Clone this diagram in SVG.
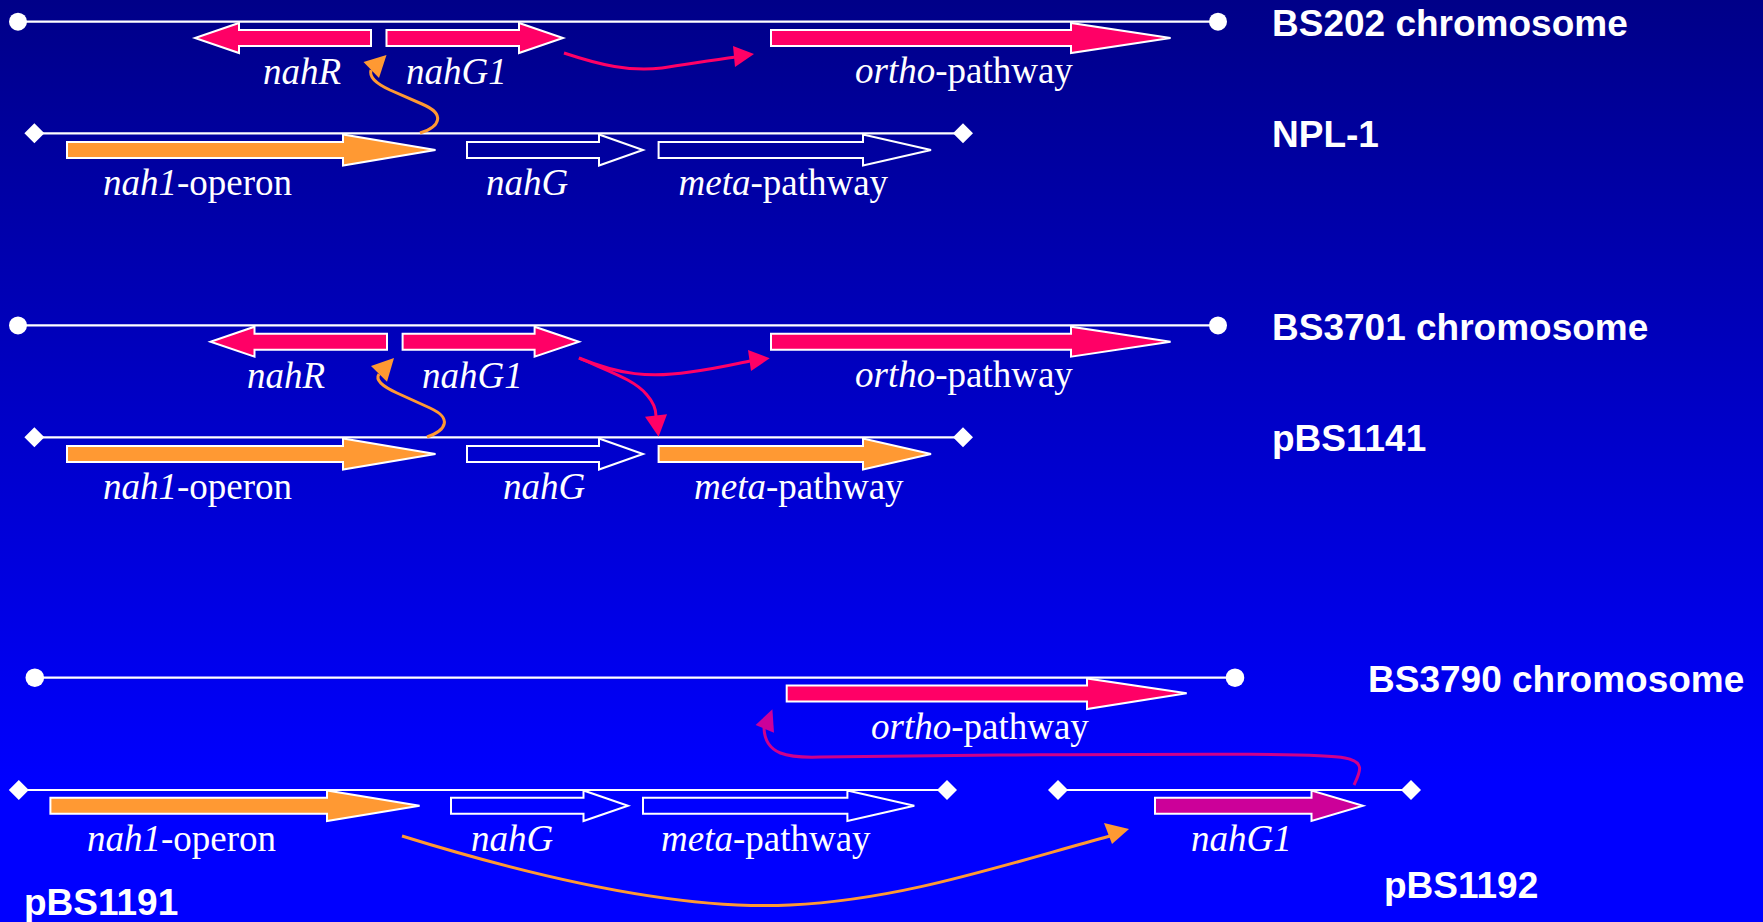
<svg xmlns="http://www.w3.org/2000/svg" width="1763" height="922" viewBox="0 0 1763 922">
<defs>
<linearGradient id="bg" x1="0" y1="0" x2="0" y2="1">
<stop offset="0" stop-color="#000088"/>
<stop offset="0.85" stop-color="#0000FF"/>
<stop offset="1" stop-color="#0000FF"/>
</linearGradient>
<style>
.dna{stroke:#FFFFFF;stroke-width:2.2;fill:none}
.end{fill:#FFFFFF}
.gene{stroke:#FFFFFF;stroke-width:2;stroke-linejoin:miter}
.red{fill:#FF0066}
.org{fill:#FF9933}
.mag{fill:#CC0099}
.empty{fill:none}
.lab{font-family:"Liberation Serif","Times New Roman",serif;font-size:37px;fill:#FFFFFF}
.lab .i{font-style:italic}
.name{font-family:"Liberation Sans",Arial,sans-serif;font-weight:bold;font-size:37px;fill:#FFFFFF}
.cr{stroke:#FF0066;stroke-width:3;fill:none}
.co{stroke:#FF9933;stroke-width:3;fill:none}
.cm{stroke:#D0008A;stroke-width:3;fill:none}
</style>
</defs>
<rect x="0" y="0" width="1763" height="922" fill="url(#bg)"/>

<!-- ===== Panel 1 ===== -->
<g id="bs202">
<line class="dna" x1="18" y1="21.7" x2="1218" y2="21.7"/>
<circle class="end" cx="18" cy="21.7" r="9"/>
<circle class="end" cx="1218" cy="21.7" r="9"/>
<text class="name" x="1272" y="35.7">BS202 chromosome</text>
</g>
<g id="bs202-nahR">
<polygon class="gene red" points="371,30 239,30 239,23 195,38 239,53 239,46 371,46"/>
<text class="lab" x="263" y="84"><tspan class="i">nahR</tspan></text>
</g>
<g id="bs202-nahG1">
<polygon class="gene red" points="386.5,30 519,30 519,23 563,38 519,53 519,46 386.5,46"/>
<text class="lab" x="406" y="84"><tspan class="i">nahG1</tspan></text>
</g>
<g id="bs202-ortho">
<polygon class="gene red" points="771,30 1071,30 1071,23 1170.6,38 1071,53 1071,46 771,46"/>
<text class="lab" x="855" y="83"><tspan class="i">ortho</tspan>-pathway</text>
</g>
<g id="npl1">
<line class="dna" x1="34.4" y1="133.3" x2="963" y2="133.3"/>
<polygon class="end" points="34.4,123.3 44.4,133.3 34.4,143.3 24.4,133.3"/>
<polygon class="end" points="963,123.3 973,133.3 963,143.3 953,133.3"/>
<text class="name" x="1272" y="147">NPL-1</text>
</g>
<g id="npl1-nah1">
<polygon class="gene org" points="67,142 343,142 343,134.5 435.5,150 343,165.5 343,158 67,158"/>
<text class="lab" x="103" y="195"><tspan class="i">nah1</tspan>-operon</text>
</g>
<g id="npl1-nahG">
<polygon class="gene empty" points="467,142 599,142 599,134.5 643,150 599,165.5 599,158 467,158"/>
<text class="lab" x="486" y="195"><tspan class="i">nahG</tspan></text>
</g>
<g id="npl1-meta">
<polygon class="gene empty" points="658.6,142 863,142 863,134.5 931,150 863,165.5 863,158 658.6,158"/>
<text class="lab" x="678.5" y="195"><tspan class="i">meta</tspan>-pathway</text>
</g>

<!-- ===== Panel 2 ===== -->
<g id="bs3701">
<line class="dna" x1="18" y1="325.4" x2="1218" y2="325.4"/>
<circle class="end" cx="18" cy="325.4" r="9"/>
<circle class="end" cx="1218" cy="325.4" r="9"/>
<text class="name" x="1272" y="340">BS3701 chromosome</text>
</g>
<g id="bs3701-nahR">
<polygon class="gene red" points="387,333.7 254.5,333.7 254.5,326.7 210.5,341.7 254.5,356.7 254.5,349.7 387,349.7"/>
<text class="lab" x="247" y="387.7"><tspan class="i">nahR</tspan></text>
</g>
<g id="bs3701-nahG1">
<polygon class="gene red" points="402.6,333.7 534.6,333.7 534.6,326.7 579,341.7 534.6,356.7 534.6,349.7 402.6,349.7"/>
<text class="lab" x="422" y="387.7"><tspan class="i">nahG1</tspan></text>
</g>
<g id="bs3701-ortho">
<polygon class="gene red" points="771,333.7 1071,333.7 1071,326.7 1170.6,341.7 1071,356.7 1071,349.7 771,349.7"/>
<text class="lab" x="855" y="387.3"><tspan class="i">ortho</tspan>-pathway</text>
</g>
<g id="pbs1141">
<line class="dna" x1="34.4" y1="437.3" x2="963" y2="437.3"/>
<polygon class="end" points="34.4,427.3 44.4,437.3 34.4,447.3 24.4,437.3"/>
<polygon class="end" points="963,427.3 973,437.3 963,447.3 953,437.3"/>
<text class="name" x="1272" y="450.7">pBS1141</text>
</g>
<g id="pbs1141-nah1">
<polygon class="gene org" points="67,446 343,446 343,438.5 435.5,454 343,469.5 343,462 67,462"/>
<text class="lab" x="103" y="499.3"><tspan class="i">nah1</tspan>-operon</text>
</g>
<g id="pbs1141-nahG">
<polygon class="gene empty" points="467,446 599,446 599,438.5 643,454 599,469.5 599,462 467,462"/>
<text class="lab" x="503" y="499.3"><tspan class="i">nahG</tspan></text>
</g>
<g id="pbs1141-meta">
<polygon class="gene org" points="658.6,446 863,446 863,438.5 931,454 863,469.5 863,462 658.6,462"/>
<text class="lab" x="694" y="499.3"><tspan class="i">meta</tspan>-pathway</text>
</g>

<!-- ===== Panel 3 ===== -->
<g id="bs3790">
<line class="dna" x1="34.8" y1="677.7" x2="1235" y2="677.7"/>
<circle class="end" cx="34.8" cy="677.7" r="9.3"/>
<circle class="end" cx="1235" cy="677.7" r="9.3"/>
<text class="name" x="1368" y="691.7">BS3790 chromosome</text>
</g>
<g id="bs3790-ortho">
<polygon class="gene red" points="786.7,685.5 1087,685.5 1087,678.5 1186.7,693.3 1087,709 1087,701.5 786.7,701.5"/>
<text class="lab" x="871" y="739.3"><tspan class="i">ortho</tspan>-pathway</text>
</g>
<g id="pbs1191">
<line class="dna" x1="18.8" y1="790" x2="947" y2="790"/>
<polygon class="end" points="18.8,780 28.8,790 18.8,800 8.8,790"/>
<polygon class="end" points="947,780 957,790 947,800 937,790"/>
<text class="name" x="24" y="915">pBS1191</text>
</g>
<g id="pbs1191-nah1">
<polygon class="gene org" points="50.4,797.7 327,797.7 327,790.5 419.6,805.7 327,821 327,813.7 50.4,813.7"/>
<text class="lab" x="87" y="851"><tspan class="i">nah1</tspan>-operon</text>
</g>
<g id="pbs1191-nahG">
<polygon class="gene empty" points="451,797.7 583.5,797.7 583.5,790.5 628,805.7 583.5,821 583.5,813.7 451,813.7"/>
<text class="lab" x="471" y="851"><tspan class="i">nahG</tspan></text>
</g>
<g id="pbs1191-meta">
<polygon class="gene empty" points="643,797.7 847.4,797.7 847.4,790.5 914.3,805.7 847.4,821 847.4,813.7 643,813.7"/>
<text class="lab" x="661" y="851"><tspan class="i">meta</tspan>-pathway</text>
</g>
<g id="pbs1192">
<line class="dna" x1="1058" y1="790" x2="1411" y2="790"/>
<polygon class="end" points="1058,780 1068,790 1058,800 1048,790"/>
<polygon class="end" points="1411,780 1421,790 1411,800 1401,790"/>
<text class="name" x="1384" y="898.3">pBS1192</text>
</g>
<g id="pbs1192-nahG1">
<polygon class="gene mag" points="1155,797.7 1311.5,797.7 1311.5,790.5 1363,805.7 1311.5,821 1311.5,813.7 1155,813.7"/>
<text class="lab" x="1191" y="851"><tspan class="i">nahG1</tspan></text>
</g>

<!-- ===== Connectors ===== -->
<g id="connectors">
<path class="co" d="M420,133 C440,127 446,114 422,104 L390,90 C375,83 369,77 371,70"/>
<polygon fill="#FF9933" points="386.5,55 363.5,62 379,78"/>
<path class="cr" d="M564,53 C600,65 630,72 662,68 C690,64 712,60 736,57"/>
<polygon fill="#FF0066" points="754,54 733,46 735,67"/>

<path class="co" d="M427,437 C447,430 452,418 430,408 L397,393 C382,386 375,380 379,374"/>
<polygon fill="#FF9933" points="394,358 371,366 387,381.7"/>
<path class="cr" d="M579,358 C620,375 650,378 690,372 C720,368 735,364 750,361"/>
<polygon fill="#FF0066" points="769.7,358.3 748,350 751,371"/>
<path class="cr" d="M579,358 C610,372 635,380 647,395 C654,403 656,409 656,416"/>
<polygon fill="#FF0066" points="658.6,436.7 645,416.7 667,414.3"/>

<path class="co" d="M402,836 C560,885 690,910 790,905 C900,900 1000,866 1110,836"/>
<polygon fill="#FF9933" points="1129,829 1104,823 1112,844"/>
<path class="cm" d="M1354,785 C1360,772 1366,762 1345,758 C1320,753 1200,754 1000,755 L820,757 C788,758 765,755 764,728"/>
<polygon fill="#CC0099" points="772.4,709.3 755.6,725 774,732.7"/>
</g>
</svg>
